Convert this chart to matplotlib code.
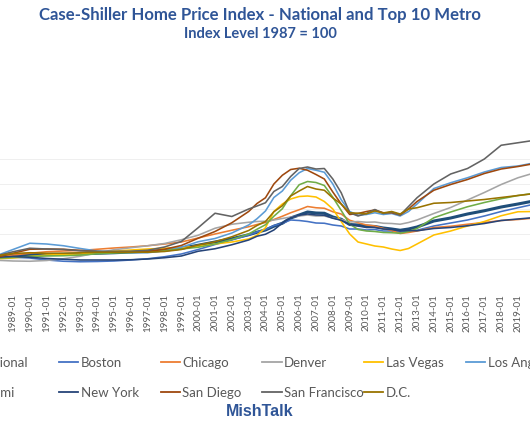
import numpy as np
import pandas as pd
import matplotlib
matplotlib.use('Agg')
import matplotlib.pyplot as plt
import matplotlib.dates as mdates

# 날짜 (1987-2002 연간, 2003-2013 반기, 2014-2020 연간)
dates = ['1987-01', '1988-01', '1989-01', '1990-01', '1991-01', '1992-01', '1993-01', '1994-01',
         '1995-01', '1996-01', '1997-01', '1998-01', '1999-01', '2000-01', '2001-01', '2002-01',
         '2003-01', '2003-07', '2004-01', '2004-07', '2005-01', '2005-07', '2006-01', '2006-07',
         '2007-01', '2007-07', '2008-01', '2008-07', '2009-01', '2009-07', '2010-01', '2010-07',
         '2011-01', '2011-07', '2012-01', '2012-07', '2013-01',
         '2014-01', '2015-01', '2016-01', '2017-01', '2018-01', '2019-01', '2020-01']

national = [100, 106, 114, 118, 118, 119, 120, 123, 125, 128, 131, 135, 143, 155, 168, 181,
            197, 207, 216, 231, 243, 264, 276, 288, 284, 283, 268, 259, 238, 236, 232, 230, 224, 220, 215, 220, 228,
            252, 264, 280, 293, 308, 320, 333]
boston = [100, 106, 107, 104, 96, 91, 89, 90, 92, 96, 101, 109, 120, 138, 158, 176,
          196, 208, 218, 234, 243, 256, 254, 250, 244, 243, 236, 232, 220, 220, 216, 218, 212, 212, 206, 212, 215,
          232, 244, 256, 272, 290, 305, 320]
chicago = [100, 107, 116, 123, 129, 132, 134, 139, 144, 148, 153, 160, 168, 184, 200, 215,
           229, 238, 246, 258, 271, 285, 297, 310, 305, 303, 289, 280, 255, 245, 236, 232, 222, 214, 202, 206, 212,
           226, 231, 239, 246, 254, 258, 264]
denver = [100, 95, 92, 91, 94, 101, 111, 125, 137, 145, 153, 162, 177, 195, 223, 239,
          247, 250, 251, 256, 262, 268, 272, 276, 272, 272, 264, 258, 248, 250, 247, 248, 243, 242, 239, 246, 256,
          282, 306, 336, 366, 398, 425, 445]
las_vegas = [100, 101, 104, 110, 116, 118, 120, 125, 131, 136, 140, 143, 146, 151, 160, 168,
             180, 195, 225, 290, 320, 340, 350, 352, 348, 330, 300, 250, 200, 168, 160, 152, 148, 140, 134, 142, 160,
             196, 212, 232, 250, 273, 289, 290]
los_angeles = [100, 113, 138, 163, 160, 153, 142, 132, 128, 125, 125, 133, 147, 169, 182, 204,
               236, 261, 292, 346, 372, 415, 445, 462, 455, 447, 400, 337, 290, 275, 278, 285, 278, 282, 272, 290, 320,
               382, 405, 425, 448, 466, 472, 485]
miami = [100, 103, 106, 110, 112, 113, 116, 121, 124, 126, 129, 134, 140, 147, 160, 178,
         200, 219, 237, 271, 301, 353, 397, 410, 406, 394, 347, 294, 240, 218, 212, 210, 206, 205, 203, 210, 222,
         265, 288, 309, 326, 341, 354, 363]
new_york = [100, 107, 110, 107, 102, 99, 96, 96, 96, 97, 100, 105, 112, 131, 141, 157,
            176, 191, 199, 216, 244, 265, 275, 280, 276, 275, 263, 255, 238, 232, 226, 226, 220, 218, 212, 214, 213,
            222, 226, 233, 242, 254, 260, 266]
san_diego = [100, 106, 123, 139, 140, 139, 134, 130, 128, 128, 130, 139, 154, 183, 210, 245,
             290, 322, 345, 400, 435, 458, 463, 455, 438, 420, 368, 320, 278, 282, 290, 296, 285, 285, 276, 300, 330,
             375, 398, 418, 442, 460, 470, 482]
san_francisco = [100, 112, 129, 143, 140, 138, 133, 130, 131, 131, 135, 148, 170, 225, 283, 270,
                 300, 312, 325, 370, 390, 430, 462, 468, 460, 462, 420, 365, 285, 272, 282, 298, 282, 288, 276, 310, 345,
                 400, 440, 462, 500, 555, 565, 575]
dc = [100, 113, 122, 125, 123, 123, 125, 127, 127, 127, 127, 130, 138, 156, 169, 189,
      214, 234, 250, 289, 313, 352, 372, 390, 380, 375, 344, 320, 285, 283, 281, 292, 284, 290, 280, 300, 305,
      323, 326, 332, 338, 346, 354, 362]

labels = ['National', 'Boston', 'Chicago', 'Denver', 'Las Vegas', 'Los Angeles',
          'Miami', 'New York', 'San Diego', 'San Francisco', 'D.C.']
series = [national, boston, chicago, denver, las_vegas, los_angeles,
          miami, new_york, san_diego, san_francisco, dc]
colors = ['#1F4E79', '#4472C4', '#ED7D31', '#A5A5A5', '#FFC000', '#5B9BD5',
          '#70AD47', '#264478', '#9E480E', '#636363', '#997300']

x = pd.to_datetime(dates)

W, H = 530, 442
fig = plt.figure(figsize=(W / 100, H / 100), dpi=100)

# 픽셀 기준 위치: 1989-01 -> 13px, 2019-01 -> 518px / y=0 -> 284px, y=600 -> 134px
d89 = mdates.date2num(pd.Timestamp('1989-01-01'))
d19 = mdates.date2num(pd.Timestamp('2019-01-01'))
lo = mdates.date2num(pd.Timestamp('1986-07-01'))
hi = mdates.date2num(pd.Timestamp('2020-07-01'))
k = (518 - 13) / (d19 - d89)
left_px = 13 - (d89 - lo) * k
right_px = 518 + (hi - d19) * k
ax = fig.add_axes([left_px / W, (H - 284) / H, (right_px - left_px) / W, 150 / H])

lines = []
for lab, vals, col in zip(labels, series, colors):
    lw = 2.2 if lab == 'National' else 1.15
    ln, = ax.plot(x, vals, color=col, lw=lw, label=lab)
    lines.append(ln)

ax.set_xlim(mdates.num2date(lo), mdates.num2date(hi))
ax.set_ylim(0, 600)
ax.set_yticks([100, 200, 300, 400, 500])
ax.grid(axis='y', color='#ECECEC', lw=0.6)
ax.set_axisbelow(True)
for s in ax.spines.values():
    s.set_visible(False)

# 눈금: 화면 안쪽의 1989-01 ~ 2019-01만 표시
ticks = pd.date_range('1989-01-01', '2019-01-01', freq='YS')
ax.set_xticks(ticks)
ax.xaxis.set_major_formatter(mdates.DateFormatter('%Y-%m'))
ax.tick_params(axis='x', length=0, pad=7, labelrotation=90, labelsize=7.1, labelcolor='#595959')
ax.tick_params(axis='y', left=False, labelleft=False)
for t in ax.get_xticklabels():
    t.set_family('Lato')

# 범례 (6열 x 2행, 균일 간격)
for i, ln in enumerate(lines):
    row, col = divmod(i, 6)
    xs = (-42.7 + 101.7 * col) / W
    ys = 1 - (363 + 30 * row) / H
    lg = fig.legend(handles=[ln], labels=[labels[i]], loc='center left', bbox_to_anchor=(xs, ys),
                    frameon=False, borderpad=0, borderaxespad=0, handlelength=1.45, handletextpad=0.2,
                    prop={'family': 'Lato', 'size': 9.5}, labelcolor='#595959')
    lg.get_lines()[0].set_linewidth(1.3)

fig.text(260 / W, 1 - 15 / H, 'Case-Shiller Home Price Index - National and Top 10 Metro',
         ha='center', va='center', family='Lato', weight='bold', size=12.1, color='#2F5597')
fig.text(260 / W, 1 - 34 / H, 'Index Level 1987 = 100',
         ha='center', va='center', family='Lato', weight='bold', size=10.5, color='#2F5597')
fig.text(260 / W, 1 - 412 / H, 'MishTalk',
         ha='center', va='center', family='Liberation Sans', weight='bold', size=11.5, color='#2F5597')

fig.savefig('out.png', dpi=100)
